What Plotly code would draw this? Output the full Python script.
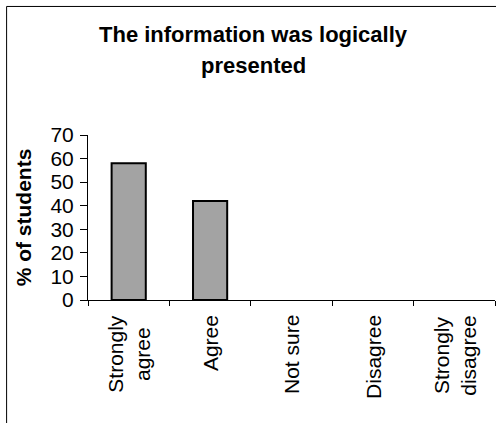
import plotly.graph_objects as go

# Survey responses: share of students per answer
categories = ["Strongly agree", "Agree", "Not sure", "Disagree", "Strongly disagree"]
axis_labels = ["Strongly<br>agree", "Agree", "Not sure", "Disagree", "Strongly<br>disagree"]
percent_students = [58, 42, 0, 0, 0]
y_ticks = [0, 10, 20, 30, 40, 50, 60, 70]

title_lines = ["The information was logically", "presented"]
y_title = "% of students"

FONT = "Liberation Sans, Arial, sans-serif"

fig = go.Figure(
    go.Bar(
        x=categories,
        y=percent_students,
        marker=dict(
            color="#a3a3a3",
            # empty categories get no outline
            line=dict(color="#000000",
                      width=[2 if v > 0 else 0 for v in percent_students]),
        ),
        width=0.42,
        hoverinfo="x+y",
    )
)

# Category names drawn vertically, with centred lines
for cat, lab in zip(categories, axis_labels):
    fig.add_annotation(
        x=cat, y=0, xref="x", yref="paper",
        text=lab, textangle=-90, showarrow=False,
        xanchor="center", yanchor="top", yshift=-13,
        align="center",
        font=dict(family=FONT, size=21, color="#000000"),
    )

# Chart title, two lines with generous spacing
for i, line in enumerate(title_lines):
    fig.add_annotation(
        x=0.407, xref="paper", xanchor="center",
        y=1.70, yref="paper", yanchor="top", yshift=-31 * i,
        text="<b>" + line + "</b>", showarrow=False,
        font=dict(family=FONT, size=22, color="#000000"),
    )

# Chart-area frame (left and top edges)
frame = dict(color="#000000", width=1)
fig.add_shape(type="line", xref="paper", yref="paper",
              x0=-0.2, x1=1.2, y0=1.779, y1=1.779, line=frame)
fig.add_shape(type="line", xref="paper", yref="paper",
              x0=-0.2, x1=-0.2, y0=1.779, y1=-0.9, line=frame)

fig.update_layout(
    width=496, height=423,
    margin=dict(l=88, r=1, t=135, b=123),
    paper_bgcolor="#ffffff",
    plot_bgcolor="#ffffff",
    showlegend=False,
    font=dict(family=FONT, size=21, color="#000000"),
    xaxis=dict(
        type="category",
        showticklabels=False,
        tickson="boundaries",
        ticks="outside", ticklen=5, tickcolor="#000000", tickwidth=1,
        showline=True, linecolor="#000000", linewidth=1,
        showgrid=False, zeroline=False,
        fixedrange=True,
    ),
    yaxis=dict(
        range=[0, 70],
        tickvals=y_ticks,
        ticks="outside", ticklen=7, tickcolor="#000000", tickwidth=1,
        ticklabelstandoff=2,
        showline=True, linecolor="#000000", linewidth=1,
        showgrid=False, zeroline=False,
        tickfont=dict(family=FONT, size=21, color="#000000"),
        title=dict(
            text=y_title,
            font=dict(family=FONT, size=21, color="#000000", weight="bold"),
            standoff=13,
        ),
        fixedrange=True,
    ),
)

fig.write_html("out.html")
